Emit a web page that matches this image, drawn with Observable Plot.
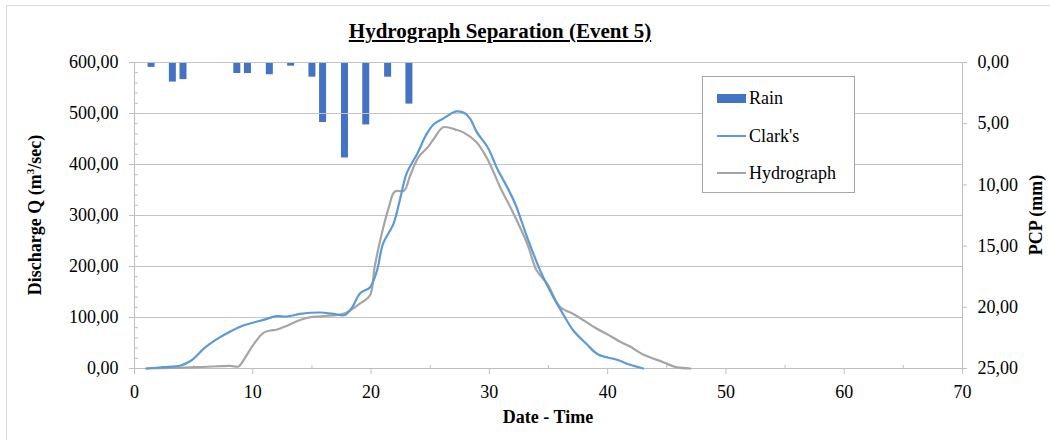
<!DOCTYPE html>
<html>
<head>
<meta charset="utf-8">
<script src="https://cdn.jsdelivr.net/npm/d3@7"></script>
<script src="https://cdn.jsdelivr.net/npm/@observablehq/plot@0.6"></script>
<style>
  body { margin: 0; background: #fff; }
  #chart { position: relative; width: 1050px; height: 440px; overflow: hidden;
           font-family: "Liberation Serif", "Times New Roman", serif; color: #000; }
  #chart svg, #chart svg text { font-family: "Liberation Serif", "Times New Roman", serif !important; }
  #border { position: absolute; left: 6px; top: 5px; width: 1060px; height: 450px; border: 1px solid #d9d9d9; }
  .layer { position: absolute; left: 0; top: 0; }
  #title { position: absolute; left: 0; top: 21px; width: 1000px; text-align: center;
           font-size: 21px; line-height: 1; font-weight: bold; text-decoration: underline; }
  .axtitle { position: absolute; font-size: 18px; font-weight: bold; white-space: nowrap; line-height: 1; }
  .axtitle sup { font-size: 11px; vertical-align: 7px; line-height: 0; }
  #legend { position: absolute; left: 702px; top: 76px; width: 151px; height: 115px;
            border: 1px solid #a6a6a6; background: #fff; font-size: 18px;
            font-family: "Liberation Serif", "Times New Roman", serif; }
  #legend .row { position: absolute; left: 14px; height: 20px; display: flex; align-items: center; }
  #legend .sw { width: 29px; margin-right: 3px; }
</style>
</head>
<body>
<div id="chart">
  <div id="border"></div>
</div>
<script>
// Event 5: time axis (hours), discharge (m3/s) and rainfall (mm)
const clarkT = [1, 2.4, 3.9, 4.8, 6.0, 7.0, 8.1, 9.2, 10.9, 12.0, 12.9, 14.0, 15.7, 16.8, 17.8, 18.4, 19.1, 19.9, 20.5, 21.0, 21.9, 22.45, 23.0, 23.9, 24.7, 25.3, 26.1, 27.2, 27.9, 28.4, 28.9, 29.9, 30.7, 31.5, 32.2, 33.2, 34.3, 35.4, 36.3, 37.1, 38.2, 39.2, 40.8, 41.9, 43.0];
const clarkQ = [0, 2.6, 5.9, 15.7, 41.8, 58, 72.5, 84.3, 95.4, 102.6, 102, 107, 109.8, 107, 105, 120, 148, 159, 192, 244, 284, 332, 382, 421, 460, 479, 490, 504, 501, 489, 465, 432, 390, 356, 322, 257, 192, 140, 104, 74.5, 48.4, 27.5, 17, 7.2, 0];

const hydroT = [1, 5.3, 8.1, 8.8, 9.2, 10.1, 10.9, 11.5, 12.0, 12.9, 14.0, 14.9, 16.0, 17.8, 19.1, 19.9, 20.3, 20.9, 21.5, 22.0, 22.8, 23.3, 24.0, 24.8, 25.3, 26.1, 27.2, 27.8, 28.9, 29.9, 30.9, 32.0, 33.2, 34.0, 34.9, 36.0, 37.1, 39.1, 39.9, 41.1, 41.9, 43.0, 44.7, 45.8, 47.0];
const hydroQ = [0, 2.6, 5.2, 3.9, 15.7, 48.4, 70, 74.5, 76, 84, 95, 100.6, 102.6, 108.5, 128, 143, 199, 264, 316, 347, 349, 378, 414, 434, 450, 473, 468, 463, 444, 408, 356, 306, 245, 192, 166, 120, 107, 78, 68, 52, 43, 27.5, 12.4, 2.6, 0];

const rainT  = [1.4, 3.2, 4.1, 8.65, 9.55, 11.4, 13.2, 15.0, 15.9, 17.75, 19.55, 21.4, 23.2];
const rainMM = [0.4, 1.6, 1.4, 0.9, 0.9, 1.0, 0.3, 1.2, 4.9, 7.8, 5.1, 1.2, 3.4];

const xTicks   = [0, 10, 20, 30, 40, 50, 60, 70];
const xMinor   = [5, 15, 25, 35, 45, 55, 65];
const qTicks   = [0, 100, 200, 300, 400, 500, 600];
const qMinor   = d3.range(0, 601, 20);
const pcpTicks = [0, 5, 10, 15, 20, 25];

const clark = clarkT.map((t, i) => ({t, q: clarkQ[i]}));
const hydro = hydroT.map((t, i) => ({t, q: hydroQ[i]}));
const rain  = rainT.map((t, i) => ({t, mm: rainMM[i]}));

const fmt2 = d => d3.format(".2f")(d).replace(".", ",");
const axisGray = "#bfbfbf";
const font = "'Liberation Serif', 'Times New Roman', serif";
const frame = {width: 1050, height: 440, marginTop: 62, marginBottom: 72, marginLeft: 134, marginRight: 88};

// Discharge layer: grid, left and bottom axes, both hydrographs
const base = Plot.plot({
  ...frame,
  style: {fontFamily: font, fontSize: "18px", background: "transparent", color: "#000"},
  x: {domain: [0, 70]},
  y: {domain: [0, 600]},
  marks: [
    Plot.gridY({ticks: qTicks, stroke: "#c4c4c4", strokeOpacity: 1}),
    Plot.ruleX([0, 70], {stroke: axisGray}),
    Plot.ruleY([0], {stroke: axisGray}),
    Plot.axisY({ticks: qTicks, tickFormat: fmt2, tickSize: 5, tickPadding: 11, stroke: axisGray, fill: "#000", label: null}),
    Plot.axisY({ticks: qMinor, tickSize: 4, dx: 4, stroke: axisGray, fill: "none"}),
    Plot.axisX({ticks: xTicks, tickFormat: d => String(d), tickSize: 6, tickPadding: 11, stroke: axisGray, fill: "#000", label: null}),
    Plot.axisX({ticks: xMinor, tickSize: 3, dy: -3, stroke: axisGray, fill: "none"}),
    Plot.line(hydro, {x: "t", y: "q", curve: "catmull-rom", stroke: "#a5a5a5", strokeWidth: 2.2}),
    Plot.line(clark, {x: "t", y: "q", curve: "catmull-rom", stroke: "#5b9bd5", strokeWidth: 2.2})
  ]
});

// Rainfall layer: hanging bars on an inverted secondary axis
const rainPlot = Plot.plot({
  ...frame,
  style: {fontFamily: font, fontSize: "18px", background: "transparent", color: "#000"},
  x: {domain: [0, 70], axis: null},
  y: {domain: [0, 25], reverse: true},
  marks: [
    Plot.ruleX(rain, {x: "t", y1: 0, y2: "mm", stroke: "#4472c4", strokeWidth: 7}),
    Plot.axisY({anchor: "right", ticks: pcpTicks, tickFormat: fmt2, tickSize: 4, tickPadding: 11, stroke: axisGray, fill: "#000", label: null})
  ]
});

const chart = document.getElementById("chart");
rainPlot.classList.add("layer");
base.classList.add("layer");
chart.appendChild(rainPlot);
chart.appendChild(base);

chart.insertAdjacentHTML("beforeend", `
  <div id="title">Hydrograph Separation (Event 5)</div>
  <div class="axtitle" style="left:35px;top:215px;transform:translate(-50%,-50%) rotate(-90deg)">Discharge Q (m<sup>3</sup>/sec)</div>
  <div class="axtitle" style="left:1036px;top:215px;transform:translate(-50%,-50%) rotate(-90deg)">PCP (mm)</div>
  <div class="axtitle" style="left:548px;top:408px;transform:translateX(-50%)">Date - Time</div>
  <div id="legend">
    <div class="row" style="top:11px"><div class="sw" style="height:9px;background:#4472c4"></div>Rain</div>
    <div class="row" style="top:49px"><div class="sw" style="height:2px;background:#5b9bd5"></div>Clark's</div>
    <div class="row" style="top:86px"><div class="sw" style="height:2px;background:#a5a5a5"></div>Hydrograph</div>
  </div>
`);
</script>
</body>
</html>
